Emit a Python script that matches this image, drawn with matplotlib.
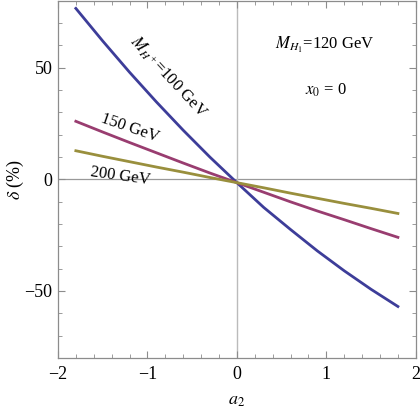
import matplotlib.pyplot as plt
from matplotlib.ticker import MultipleLocator

# Data (delta in % vs a2)
a2 = [-1.8, -1.5, -1.2, -0.9, -0.6, -0.3, 0.0, 0.3, 0.6, 0.9, 1.2, 1.5, 1.8]
delta_100 = [76.6, 62.0, 48.0, 34.7, 22.0, 9.9, -1.5, -12.6, -22.5, -32.1, -41.0, -49.3, -57.0]
delta_150 = [26.0, 21.2, 16.5, 11.9, 7.3, 2.8, -1.5, -5.8, -10.1, -14.2, -18.1, -22.1, -26.0]
delta_200 = [12.8, 10.3, 7.9, 5.5, 3.2, 0.8, -1.5, -3.8, -6.2, -8.5, -10.8, -13.0, -15.3]

plt.rcParams["font.family"] = ["Liberation Serif", "DejaVu Serif"]
plt.rcParams["mathtext.fontset"] = "stix"

fig = plt.figure(figsize=(4.2, 4.08), dpi=100)
ax = fig.add_axes([0.138, 0.123, 0.852, 0.875])

frame = "#8c8c8c"
ax.axhline(0, color="#999999", lw=0.9, zorder=1)
ax.axvline(0, color="#bbbbbb", lw=1.0, zorder=1)

ax.plot(a2, delta_100, color="#3d3d99", lw=2.0, zorder=3)
ax.plot(a2, delta_150, color="#993d70", lw=2.0, zorder=3)
ax.plot(a2, delta_200, color="#998f3d", lw=2.0, zorder=3)

ax.set_xlim(-2, 2)
ax.set_ylim(-80, 80)
ax.xaxis.set_minor_locator(MultipleLocator(0.2))
ax.yaxis.set_minor_locator(MultipleLocator(10))
ax.tick_params(which="both", direction="in", top=True, right=True,
               color=frame, labelsize=13)
ax.tick_params(which="major", length=5, width=0.8)
ax.tick_params(which="minor", length=3, width=0.6)
for s in ax.spines.values():
    s.set_color(frame)
    s.set_linewidth(0.9)
ax.set_xticks([-2, -1, 0, 1, 2])
ax.set_xticklabels(["\u22122", "\u22121", "0", "1", "2"])
ax.set_yticks([-50, 0, 50])
ax.set_yticklabels(["\u221250", "0", "50"])
ax.tick_params(axis="x", pad=6)
ax.tick_params(axis="y", pad=4)

ax.set_xlabel("$a_2$", fontsize=13)
ax.xaxis.set_label_coords(0.5, -0.095)
ax.set_ylabel("$\\delta$ (%)", fontsize=13)
ax.yaxis.set_label_coords(-0.088, 0.5)

ax.text(-0.76, 46, "$M_{H^+}$=100 GeV", rotation=-47, fontsize=12,
        ha="center", va="center")
ax.text(-1.2, 23, "150 GeV", rotation=-19, fontsize=12,
        ha="center", va="center")
ax.text(-1.3, 1.3, "200 GeV", rotation=-8, fontsize=12,
        ha="center", va="center")
ax.text(0.98, 60, "$M_{H_1}$=120 GeV", fontsize=12, ha="center", va="center")
ax.text(1.0, 40, "$x_0$ = 0", fontsize=12, ha="center", va="center")

fig.savefig("out.png", dpi=100)
